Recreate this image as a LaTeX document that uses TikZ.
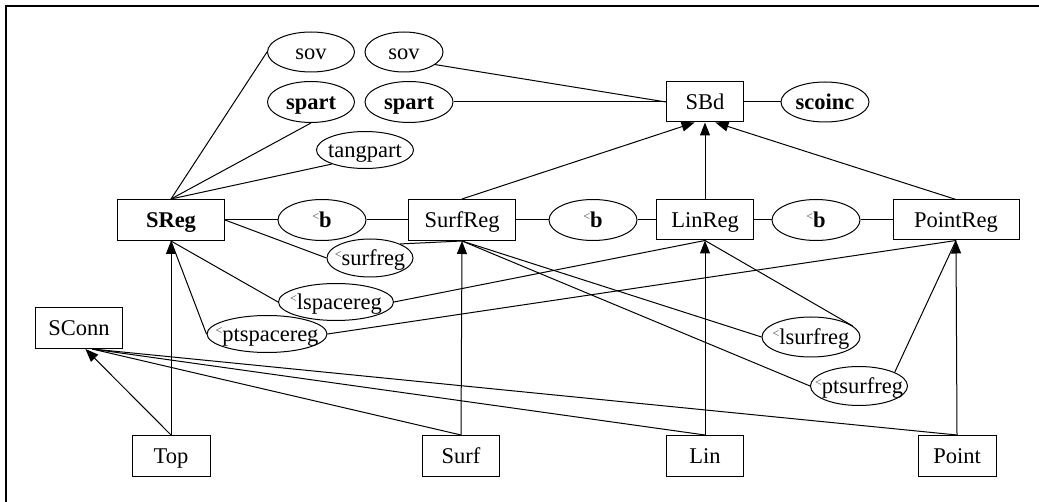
\documentclass[tikz,border=0pt]{standalone}
\usepackage{fontspec}
\setmainfont{Liberation Serif}
\usetikzlibrary{shapes.geometric,arrows.meta}
% label text centred on the node, with a fixed baseline and no effect on the node size
\newcommand\lbl[1]{\smash{\raisebox{-8pt}{\makebox[0pt]{#1}}}}
% the small raised "<" used as a prefix in relation names
\newcommand\ltmark{\raisebox{7pt}{\fontsize{12}{12}\selectfont\mdseries\textcolor{black!75}{<}}}
\tikzset{
  every node/.style={font=\fontsize{22.5}{26}\selectfont, inner sep=0pt, line width=1pt},
  rbox/.style={draw, rectangle, minimum width=#1, minimum height=41pt},
  oval/.style={draw, ellipse, minimum width=#1, minimum height=40pt},
  con/.style={line width=1pt},
  arr/.style={con, -{Triangle[length=13pt,width=10pt]}},
}
\begin{document}
\begin{tikzpicture}[x=1pt,y=-1pt]
\useasboundingbox (0,0) rectangle (1039,502);
\draw[line width=2pt] (6,502) -- (6,6) -- (1039,6);

% top row: relations around SBd
\node[oval=87pt] (sovA) at (311,52) {\lbl{sov}};
\node[oval=78pt] (sovB) at (404,52) {\lbl{sov}};
\node[oval=87pt, minimum height=41pt] (spartA) at (311,102) {\lbl{\textbf{spart}}};
\node[oval=88pt, minimum height=41pt] (spartB) at (409,102) {\lbl{\textbf{spart}}};
\node[oval=97pt, minimum height=37pt] (tang) at (365,150) {\lbl{tangpart}};
\node[rbox=77pt, minimum height=40pt] (SBd) at (705,102) {\lbl{SBd}};
\node[oval=88pt] (scoinc) at (825,102) {\lbl{\textbf{scoinc}}};

% region row
\node[rbox=107pt] (SReg) at (171,220) {\lbl{\textbf{SReg}}};
\node[oval=88pt, minimum height=41pt] (bA) at (322,220) {\lbl{\ltmark\textbf{b}}};
\node[rbox=107pt] (SurfReg) at (462,220) {\lbl{SurfReg}};
\node[oval=88pt, minimum height=41pt] (bB) at (593,220) {\lbl{\ltmark\textbf{b}}};
\node[rbox=97pt, minimum height=40pt] (LinReg) at (705,220) {\lbl{LinReg}};
\node[oval=88pt, minimum height=41pt] (bC) at (816,220) {\lbl{\ltmark\textbf{b}}};
\node[rbox=126pt, minimum height=40pt] (PointReg) at (956,220) {\lbl{PointReg}};

% order relations between region sorts
\node[oval=86pt, minimum height=38pt] (surfreg) at (370,258) {\lbl{\ltmark surfreg}};
\node[oval=115pt, minimum height=37pt] (lspacereg) at (336,302) {\lbl{\ltmark lspacereg}};
\node[oval=120pt, minimum height=37pt] (ptspacereg) at (267,334) {\lbl{\ltmark ptspacereg}};
\node[oval=98pt] (lsurfreg) at (811,337) {\lbl{\ltmark lsurfreg}};
\node[oval=97pt, minimum height=39pt] (ptsurfreg) at (859,386) {\lbl{\ltmark ptsurfreg}};

% bottom row
\node[rbox=87pt] (SConn) at (79,328) {\lbl{SConn}};
\node[rbox=78pt] (Top) at (171,456) {\lbl{Top}};
\node[rbox=77pt] (Surf) at (461,456) {\lbl{Surf}};
\node[rbox=77pt] (Lin) at (705,456) {\lbl{Lin}};
\node[rbox=78pt] (Point) at (957,456) {\lbl{Point}};

% SReg relations
\draw[con] (SReg.north) -- (sovA.west);
\draw[con] (SReg.north) -- (spartA.south);
\draw[con] (SReg.north) -- (tang.203);

% SBd relations
\draw[con] (sovB.-22) -- (SBd.west);
\draw[con] (spartB.east) -- (SBd.west);
\draw[con] (SBd.east) -- (scoinc.west);
\draw[arr] (SurfReg.north) -- (SBd.-117);
\draw[arr] (LinReg.north) -- (SBd.south);
\draw[arr] (PointReg.north) -- (SBd.-63);

% chain of <b
\draw[con] (SReg.east) -- (bA.west);
\draw[con] (bA.east) -- (SurfReg.west);
\draw[con] (SurfReg.east) -- (bB.west);
\draw[con] (bB.east) -- (LinReg.west);
\draw[con] (LinReg.east) -- (bC.west);
\draw[con] (bC.east) -- (PointReg.west);

% order relations
\draw[con] (SReg.east) -- (surfreg.west);
\draw[con] (surfreg.25) -- (SurfReg.south);
\draw[con] (SReg.south) -- (lspacereg.west);
\draw[con] (lspacereg.east) -- (LinReg.south);
\draw[con] (SReg.south) -- (ptspacereg.west);
\draw[con] (ptspacereg.east) -- (PointReg.south);
\draw[con] (SurfReg.south) -- (lsurfreg.west);
\draw[con] (LinReg.south) -- (lsurfreg.15);
\draw[con] (SurfReg.south) -- (ptsurfreg.west);
\draw[con] (PointReg.south) -- (ptsurfreg.21);

% sort inclusions
\draw[arr] (Top.north) -- (SReg.south);
\draw[arr] (Surf.north) -- (SurfReg.south);
\draw[arr] (Lin.north) -- (LinReg.south);
\draw[arr] (Point.north) -- (PointReg.south);
\draw[arr] (Top.north) -- (SConn.-73);
\draw[con] (Surf.north) -- (SConn.-58);
\draw[con] (Lin.north) -- (SConn.-58);
\draw[con] (Point.north) -- (SConn.-58);
\end{tikzpicture}
\end{document}
